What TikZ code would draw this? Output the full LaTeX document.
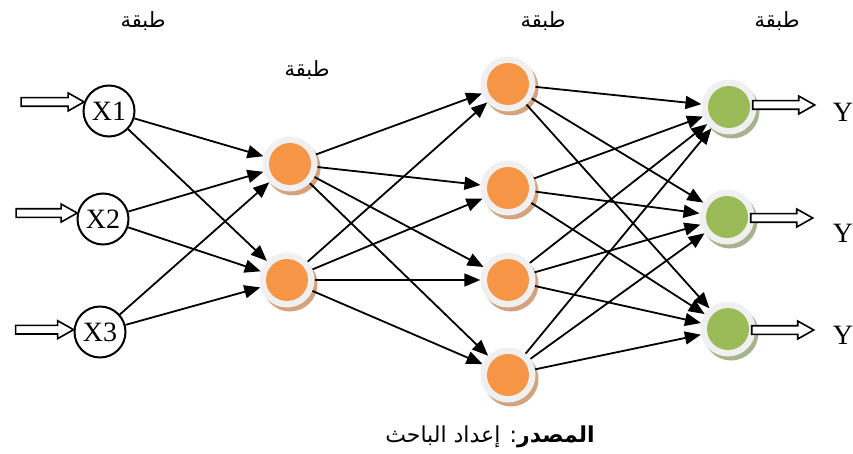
\documentclass[tikz,border=0pt]{standalone}
\usepackage{fontspec}
\setmainfont{Liberation Serif}
\newfontfamily\arabicfont[Script=Arabic]{DejaVu Sans}
\TeXXeTstate=1
\usetikzlibrary{arrows.meta,calc}
\definecolor{orng}{HTML}{F79646}
\definecolor{orngshadow}{HTML}{D3A27F}
\definecolor{grn}{HTML}{9BBB59}
\definecolor{grnshadow}{HTML}{A7B28F}
\definecolor{ringgray}{HTML}{F0F0F0}
\newcommand\neuronat[4]{%
  \fill[#4] ($(#2)+(3,4)$) circle (27.5);
  \node[neuron] (#1) at (#2) {};
  \fill[#3] (#1.center) circle (21);}
\newcommand\hollowarr[2]{%
  \draw[harrow] ($(#1)+(0,-4.3)$) -- ($(#2)+(-16,-4.3)$) -- ($(#2)+(-16,-9)$) -- (#2)
    -- ($(#2)+(-16,9)$) -- ($(#2)+(-16,4.3)$) -- ($(#1)+(0,4.3)$) -- cycle;}
\begin{document}
\begin{tikzpicture}[x=1pt,y=-1pt,
  inp/.style={circle, draw, line width=2pt, minimum size=51pt, inner sep=0pt,
    font=\fontsize{28}{30}\selectfont},
  neuron/.style={circle, fill=ringgray, minimum size=55pt, inner sep=0pt},
  conn/.style={line width=1.8pt, -{Triangle[length=16pt,width=13pt]}},
  harrow/.style={line width=1.6pt, fill=white, line join=miter},
  ylab/.style={font=\fontsize{28}{30}\selectfont},
  layerlab/.style={font=\arabicfont\fontsize{21}{24}\selectfont}]
\useasboundingbox (0,0) rectangle (853,454);

% input nodes
\node[inp] (X1) at (109,111) {X1};
\node[inp] (X2) at (103,219) {X2};
\node[inp] (X3) at (100,332) {X3};

% hidden layer 1
\neuronat{Ha}{290,164}{orng}{orngshadow}
\neuronat{Hb}{287,280}{orng}{orngshadow}
% hidden layer 2
\neuronat{Ga}{508,84}{orng}{orngshadow}
\neuronat{Gb}{508,188}{orng}{orngshadow}
\neuronat{Gc}{508,280}{orng}{orngshadow}
\neuronat{Gd}{508,375}{orng}{orngshadow}
% output layer
\neuronat{Oa}{729,107}{grn}{grnshadow}
\neuronat{Ob}{727,217}{grn}{grnshadow}
\neuronat{Oc}{728,329}{grn}{grnshadow}

% connections input -> hidden 1
\foreach \s in {X1,X2,X3}
  \foreach \t in {Ha,Hb}
    \draw[conn] (\s) -- (\t);
% hidden 1 -> hidden 2
\foreach \s in {Ha,Hb}
  \foreach \t in {Ga,Gb,Gc,Gd}
    \draw[conn] (\s) -- (\t);
% hidden 2 -> output
\foreach \s in {Ga,Gb,Gc,Gd}
  \foreach \t in {Oa,Ob,Oc}
    \draw[conn] (\s) -- (\t);

% input hollow arrows
\coordinate (s1) at ($(X1.160)+(-63,0)$);
\coordinate (s2) at ($(X2.167)+(-61,0)$);
\coordinate (s3) at ($(X3.175)+(-58,0)$);
\hollowarr{s1}{X1.160}
\hollowarr{s2}{X2.167}
\hollowarr{s3}{X3.175}

% output hollow arrows
\coordinate (oa1) at ($(Oa.east)+(-4,-2)$);
\coordinate (oa2) at ($(Oa.east)+(58,-2)$);
\coordinate (ob1) at ($(Ob.east)+(-4,1)$);
\coordinate (ob2) at ($(Ob.east)+(58,1)$);
\coordinate (oc1) at ($(Oc.east)+(-4,1)$);
\coordinate (oc2) at ($(Oc.east)+(58,1)$);
\hollowarr{oa1}{oa2}
\hollowarr{ob1}{ob2}
\hollowarr{oc1}{oc2}

% Y labels
\node[ylab] (ya) at (843,112) {Y};
\node[ylab] (yb) at (843,233) {Y};
\node[ylab] (yc) at (843,335) {Y};

% layer labels
\node[layerlab] (l1) at (143,21) {\beginR طبقة\endR};
\node[layerlab] (l2) at (307,70) {\beginR طبقة\endR};
\node[layerlab] (l3) at (543,21) {\beginR طبقة\endR};
\node[layerlab] (l4) at (777,21) {\beginR طبقة\endR};

% caption
\node[font=\arabicfont\fontsize{22}{25}\selectfont] (cap) at (490,437)
  {\beginR{\bfseries المصدر}: إعداد الباحث\endR};
\end{tikzpicture}
\end{document}
